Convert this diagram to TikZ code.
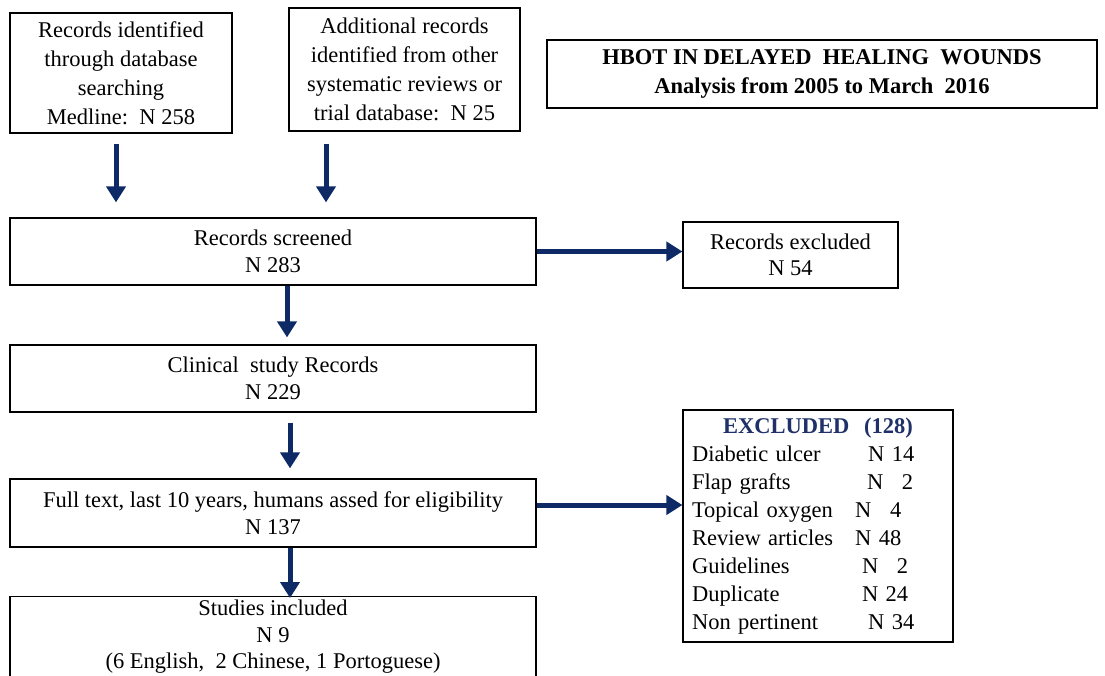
\documentclass[tikz,border=0pt]{standalone}
\usepackage{fontspec}
\setmainfont{Liberation Serif}
\usetikzlibrary{arrows.meta,calc}
\definecolor{navy}{HTML}{0E2A66}
\definecolor{titlenavy}{HTML}{1F3168}
\begin{document}
\begin{tikzpicture}[x=1pt,y=-1pt,
  box/.style={draw=black,line width=1.2pt,fill=white,inner sep=0pt,align=center,font=\fontsize{22.5}{26.5}\selectfont},
  arr/.style={draw=navy,line width=5pt,-{Triangle[length=16pt,width=19pt]}},
]
\clip (0,0) rectangle (1105,675);
\fill[white] (0,0) rectangle (1105,675);
% top boxes
\node[box,minimum width=222pt,minimum height=120pt,font=\fontsize{22.5}{29}\selectfont] (b1) at (121,73)
  {Records identified\\through database\\searching\\Medline:\ \ N 258};
\node[box,minimum width=231pt,minimum height=123pt,font=\fontsize{22.5}{29}\selectfont] (b2) at (404.5,69.5)
  {Additional records\\identified\ from other\\systematic reviews or\\trial database:\ \ N 25};
\node[box,line width=1.6pt,minimum width=550pt,minimum height=68pt,font=\fontsize{22.5}{29}\selectfont\bfseries] (title) at (822,74)
  {HBOT IN DELAYED\ \ HEALING\ \ WOUNDS\\Analysis from 2005 to March\ \ 2016};
% main column
\node[box,minimum width=526pt,minimum height=67pt] (scr) at (273,251.5) {Records screened\\N 283};
\node[box,minimum width=215pt,minimum height=66pt] (ex1) at (790.5,255) {Records excluded\\N 54};
\node[box,minimum width=526pt,minimum height=67pt] (clin) at (273,378.5) {Clinical\ \ study Records\\N 229};
\node[box,minimum width=526pt,minimum height=68pt] (full) at (273,513) {Full text, last 10 years, humans assed for eligibility\\N 137};
\node[box,minimum width=526pt,minimum height=120pt,anchor=north] (stud) at (273,596) {};
\node[align=center,inner sep=0pt,anchor=north,font=\fontsize{22.5}{26.5}\selectfont] (studt) at ([yshift=-4pt]stud.north)
  {Studies included\\N 9\\(6 English,\ \ 2 Chinese, 1 Portoguese)};
% excluded list
\node[box,minimum width=270pt,minimum height=232pt,inner xsep=9pt,align=left,text width=252pt,font=\fontsize{22.5}{28}\selectfont] (ex2) at (818,526)
  {\makebox[252pt]{\color{titlenavy}\bfseries EXCLUDED\ \ (128)}\\
   \makebox[176pt][l]{Diabetic ulcer}N 14\\
   \makebox[175pt][l]{Flap grafts}N \phantom{1}2\\
   \makebox[163pt][l]{Topical oxygen}N \phantom{0}4\\
   \makebox[163pt][l]{Review articles}N 48\\
   \makebox[170pt][l]{Guidelines}N \phantom{0}2\\
   \makebox[170pt][l]{Duplicate}N 24\\
   \makebox[176pt][l]{Non pertinent}N 34};
% arrows
\coordinate (fe) at ([yshift=8pt]full.east);
\draw[arr,shorten <=10pt,shorten >=15pt] ([xshift=-5pt]b1.south) -- ([xshift=-5pt]b1.south |- scr.north);
\draw[arr,shorten <=12pt,shorten >=15pt] ([xshift=-78.5pt]b2.south) -- ([xshift=-78.5pt]b2.south |- scr.north);
\draw[arr] (scr.east) -- (ex1.west |- scr.east);
\draw[arr,shorten >=7pt] ([xshift=14pt]scr.south) -- ([xshift=14pt]clin.north);
\draw[arr,shorten <=10pt,shorten >=10pt] ([xshift=17pt]clin.south) -- ([xshift=17pt]full.north);
\draw[arr,shorten >=-2pt] ([xshift=17pt]full.south) -- ([xshift=17pt]stud.north);
\draw[arr] (fe) -- (ex2.west |- fe);
\end{tikzpicture}
\end{document}
